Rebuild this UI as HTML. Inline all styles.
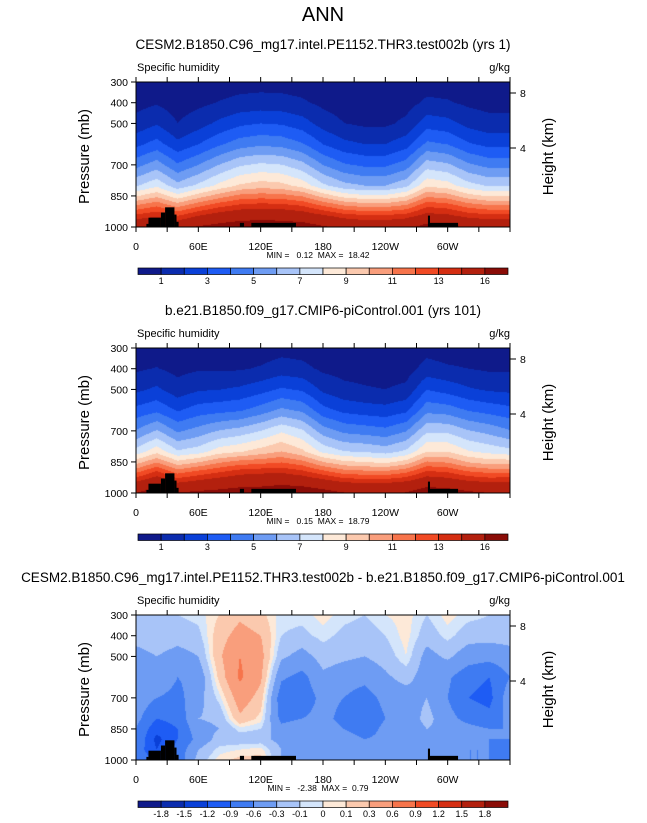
<!DOCTYPE html>
<html><head><meta charset="utf-8">
<style>
body{margin:0;background:#fff;}
#wrap{position:relative;width:647px;height:823px;overflow:hidden;font-family:"Liberation Sans",sans-serif;}
canvas{position:absolute;}
svg{position:absolute;left:0;top:0;}
text{white-space:pre;}
</style></head>
<body>
<div id="wrap">
<canvas id="c0" width="374" height="145" style="left:136px;top:82px"></canvas>
<canvas id="c1" width="374" height="145" style="left:136px;top:348px"></canvas>
<canvas id="c2" width="374" height="145" style="left:136px;top:615px"></canvas>
<svg id="ov" width="647" height="823"></svg>
</div>
<script>
// ---- data ----
const lons = [0,20,40,60,80,100,120,140,160,180,200,220,240,260,280,300,320,340,360];
const pres = [300,400,500,600,700,800,850,900,950,1000];
const qTest = [
[.3,.4,.24,.34,.46,.56,.6,.58,.5,.34,.24,.2,.2,.28,.52,.48,.36,.3,.3],
[.65,.9,.5,.75,1.05,1.3,1.4,1.35,1.15,.75,.5,.4,.4,.6,1.2,1.1,.8,.65,.65],
[1.35,1.9,1.02,1.57,2.23,2.78,3.0,2.89,2.45,1.57,1.02,.8,.8,1.24,2.56,2.34,1.68,1.35,1.35],
[2.7,3.4,2.28,2.98,3.82,4.52,4.8,4.66,4.1,2.98,2.28,2,2,2.56,4.24,3.96,3.12,2.7,2.7],
[4.65,5.5,4.14,4.99,6.01,6.86,7.2,7.03,6.35,4.99,4.14,3.8,3.8,4.48,6.52,6.18,5.16,4.65,4.65],
[6.88,7.75,6.35,7.23,8.28,9.15,9.5,9.33,8.63,7.23,6.35,6,6,6.7,8.8,8.45,7.4,6.88,6.88],
[8.88,9.75,8.35,9.5,10.5,11.3,11.5,11.4,10.9,9.6,8.6,8.2,8.2,8.9,10.8,10.45,9.4,8.88,8.88],
[11.25,12,10.8,11.9,12.8,13.4,13.6,13.5,13.1,12.1,11.2,10.8,10.8,11.3,12.9,12.6,11.7,11.25,11.25],
[13.5,14,13.2,14.2,14.9,15.3,15.4,15.3,15.0,14.4,13.7,13.4,13.4,13.7,14.6,14.4,13.8,13.5,13.5],
[15.4,16,15.3,16.2,16.6,17.0,17.2,17.1,16.9,16.2,15.6,15.2,15.2,15.5,16.72,16.48,15.76,15.4,15.4]];
// difference (test - control), one column per longitude, values top (300) to bottom (1000)
const qDiffCols = [
[-0.1,-0.2,-0.4,-0.6,-0.4,-0.5,-0.6,-0.6,-0.7,-0.6],
[-0.1,-0.15,-0.3,-0.35,-0.6,-0.9,-1.1,-1.3,-1.2,-1.0],
[-0.1,-0.2,-0.4,-0.6,-0.7,-0.8,-0.9,-0.9,-0.8,-0.8],
[-0.05,-0.15,-0.3,-0.5,-0.4,-0.3,-0.4,-0.5,-0.3,-0.2],
[0.1,0.2,0.25,0.15,-0.05,-0.25,-0.3,-0.2,-0.05,0.05],
[0.25,0.4,0.6,0.65,0.45,0.25,-0.05,-0.2,0.0,0.15],
[0.15,0.3,0.4,0.35,0.2,0.05,-0.1,-0.2,0.05,0.15],
[-0.05,-0.1,-0.25,-0.55,-0.8,-0.7,-0.5,-0.4,-0.3,-0.3],
[-0.05,-0.15,-0.4,-0.7,-0.8,-0.6,-0.4,-0.3,-0.3,-0.4],
[0.05,-0.05,-0.2,-0.35,-0.5,-0.5,-0.4,-0.35,-0.4,-0.5],
[-0.05,-0.15,-0.25,-0.45,-0.6,-0.7,-0.6,-0.4,-0.4,-0.5],
[-0.1,-0.2,-0.3,-0.5,-0.75,-0.9,-0.8,-0.6,-0.5,-0.5],
[0.0,-0.1,-0.2,-0.35,-0.5,-0.6,-0.5,-0.5,-0.5,-0.5],
[0.05,0.05,0.0,-0.2,-0.45,-0.5,-0.5,-0.6,-0.6,-0.6],
[-0.1,-0.2,-0.4,-0.45,-0.3,-0.2,-0.3,-0.4,-0.5,-0.5],
[0.05,-0.05,-0.25,-0.55,-0.6,-0.5,-0.4,-0.4,-0.5,-0.5],
[-0.05,-0.2,-0.45,-0.8,-0.9,-0.7,-0.5,-0.5,-0.6,-0.6],
[-0.1,-0.2,-0.5,-0.9,-1.0,-0.8,-0.6,-0.6,-0.6,-0.6],
[-0.1,-0.2,-0.4,-0.6,-0.4,-0.5,-0.6,-0.6,-0.7,-0.6]];
const levelsQ = [1,2,3,4,5,6,7,8,9,10,11,12,13,14,16];
const levelsD = [-1.8,-1.5,-1.2,-0.9,-0.6,-0.3,-0.1,0,0.1,0.3,0.6,0.9,1.2,1.5,1.8];
const labelsQ = ["1","3","5","7","9","11","13","16"];
const labelsD = ["-1.8","-1.5","-1.2","-0.9","-0.6","-0.3","-0.1","0","0.1","0.3","0.6","0.9","1.2","1.5","1.8"];
const topoSeg = [[10,12,985],[12,24,955],[24,28,930],[28,37,905],[37,39,940],[39,41,975],[100,104,980],[111,154,980],[281,283,945],[283,310,980]];
const pTicks = [300,400,500,700,850,1000];
const hTicks = [8,4];
const lonTickLabels = ["0","60E","120E","180","120W","60W"];
const titles = ["CESM2.B1850.C96_mg17.intel.PE1152.THR3.test002b (yrs 1)","b.e21.B1850.f09_g17.CMIP6-piControl.001 (yrs 101)","CESM2.B1850.C96_mg17.intel.PE1152.THR3.test002b - b.e21.B1850.f09_g17.CMIP6-piControl.001"];
const minmax = [["0.12","18.42"],["0.15","18.79"],["-2.38","0.79"]];
const palette = ["#0f1a8a","#0b2cae","#0a40d8","#1e5cf4","#3f7bf2","#6e9cf3","#a8c4f8","#d4e5fb","#fde9d8","#fbc9ae","#f99e7c","#f7744b","#f14a24","#d52e12","#b3200e","#8a0c07"];

// ---- helpers ----
const X0=136, W=374, H=145, tops=[82,348,615];
const xOf = l => X0 + l/360*W;
const yOfP = (p,t) => t + (p-300)/700*H;
const qDiff = pres.map((_,j)=>lons.map((_,i)=>qDiffCols[i][j]));
const qCtrl = qTest.map((r,j)=>r.map((v,i)=>v - qDiff[j][i]));
function sample(g,l,p){
  let i=0; while(i<lons.length-2 && l>lons[i+1]) i++;
  let j=0; while(j<pres.length-2 && p>pres[j+1]) j++;
  const tx=(l-lons[i])/(lons[i+1]-lons[i]), ty=(p-pres[j])/(pres[j+1]-pres[j]);
  const a=g[j][i]*(1-tx)+g[j][i+1]*tx, b=g[j+1][i]*(1-tx)+g[j+1][i+1]*tx;
  return a*(1-ty)+b*ty;
}
function colorFor(v,lev){let k=0;while(k<lev.length&&v>=lev[k])k++;return palette[k];}
function drawField(id,g,lev){
  const ctx=document.getElementById(id).getContext('2d');
  for(let y=0;y<H;y++){const p=300+(y+0.5)/H*700;
    for(let x=0;x<W;x++){const l=(x+0.5)/W*360;
      ctx.fillStyle=colorFor(sample(g,l,p),lev);ctx.fillRect(x,y,1,1);}}
}
drawField('c0',qTest,levelsQ);drawField('c1',qCtrl,levelsQ);drawField('c2',qDiff,levelsD);

const NS='http://www.w3.org/2000/svg', ov=document.getElementById('ov');
function mk(tag,attrs,name,txt){const e=document.createElementNS(NS,tag);for(const k in attrs)e.setAttribute(k,attrs[k]);
  
  
  if(txt!==undefined)e.textContent=txt;ov.appendChild(e);return e;}
mk('text',{x:323,y:21,'font-size':20,'text-anchor':'middle'},'main-title','ANN');
tops.forEach((t,k)=>{
  mk('text',{x:323,y:t-33,'font-size':13.5,'text-anchor':'middle'},'panel-title',titles[k]);
  mk('text',{x:137,y:t-11,'font-size':11},'variable-label','Specific humidity');
  mk('text',{x:510,y:t-11,'font-size':11,'text-anchor':'end'},'units-label','g/kg');
  topoSeg.forEach(s=>{mk('rect',{x:xOf(s[0]),y:yOfP(s[2],t),width:xOf(s[1])-xOf(s[0]),height:yOfP(1000,t)-yOfP(s[2],t),fill:'#000'},'topography');});
  mk('rect',{x:X0,y:t,width:W,height:H,fill:'none',stroke:'#000','stroke-width':1},'plot-frame');
  pTicks.forEach(p=>{const y=yOfP(p,t);
    mk('line',{x1:X0-5,x2:X0,y1:y,y2:y,stroke:'#000'},'y-tick');
    mk('text',{x:X0-8,y:y+4,'font-size':10.5,'text-anchor':'end'},'y-tick-label',String(p));});
  hTicks.forEach((h,i)=>{const y=h===8?t+11:t+66;
    mk('line',{x1:X0+W,x2:X0+W+6,y1:y,y2:y,stroke:'#000'},'height-tick');
    mk('text',{x:X0+W+10,y:y+4,'font-size':10.5},'height-tick-label',String(h));});
  for(let l=0;l<=360;l+=30){const x=xOf(l);
    mk('line',{x1:x,x2:x,y1:t-5,y2:t,stroke:'#000'},'top-tick');
    mk('line',{x1:x,x2:x,y1:t+H,y2:t+H+5,stroke:'#000'},'x-tick');}
  lonTickLabels.forEach((s,i)=>{mk('text',{x:xOf(i*60),y:t+H+23,'font-size':10.5,'text-anchor':'middle'},'x-tick-label',s);});
  mk('text',{x:0,y:0,'font-size':15,'text-anchor':'middle',transform:`translate(89,${t+H/2+2}) rotate(-90)`},'y-axis-title','Pressure (mb)');
  mk('text',{x:0,y:0,'font-size':15,'text-anchor':'middle',transform:`translate(553,${t+H/2+2}) rotate(-90)`},'height-axis-title','Height (km)');
  mk('text',{x:318,y:t+H+31,'font-size':8.5,'text-anchor':'middle'},'min-max-label',`MIN =   ${minmax[k][0]}  MAX =  ${minmax[k][1]}`);
  const cy=t+186, cx0=138, cw=370/16;
  palette.forEach((c,i)=>{mk('rect',{x:cx0+i*cw,y:cy,width:cw,height:6.5,fill:c,stroke:'#000','stroke-width':0.7},'colorbar-box');});
  if(k<2){labelsQ.forEach((s,i)=>{mk('text',{x:cx0+(2*i+1)*cw,y:cy+16,'font-size':9,'text-anchor':'middle'},'colorbar-label',s);});}
  else{labelsD.forEach((s,i)=>{mk('text',{x:cx0+(i+1)*cw,y:cy+16,'font-size':9,'text-anchor':'middle'},'colorbar-label',s);});}
});
</script>
</body></html>
